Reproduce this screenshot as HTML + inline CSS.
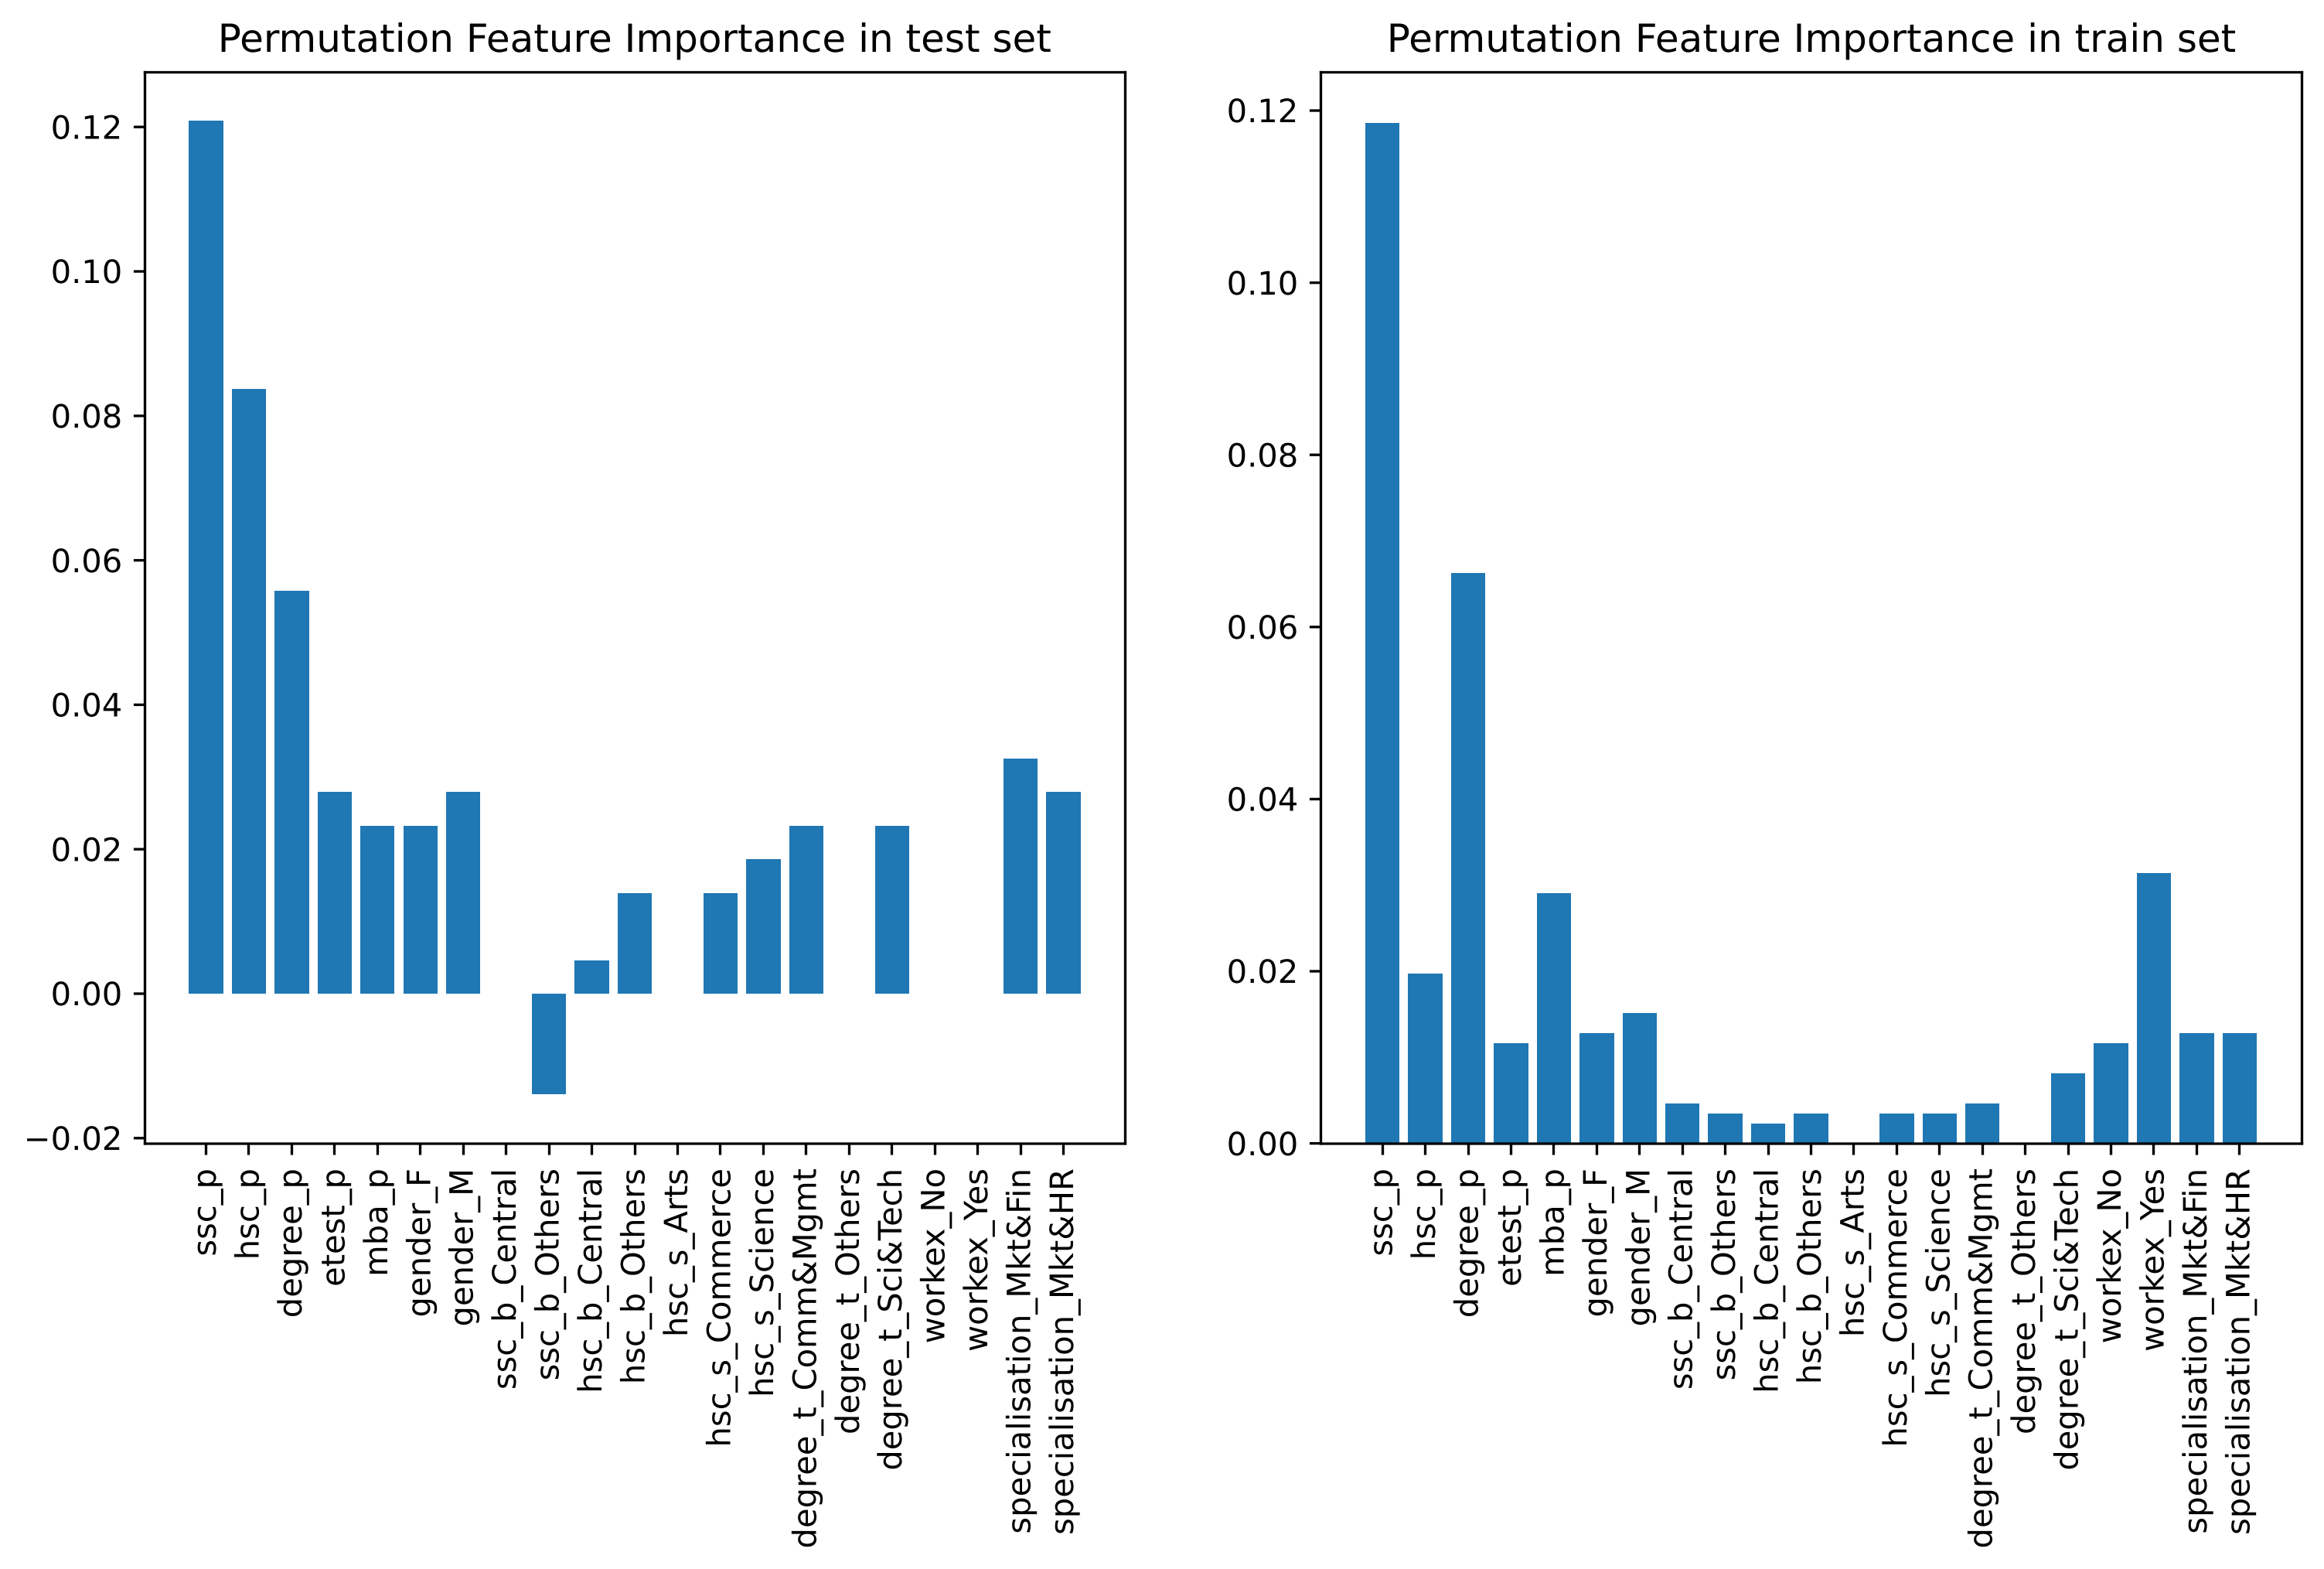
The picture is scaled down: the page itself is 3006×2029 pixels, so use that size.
<!DOCTYPE html>
<html lang="en">
<head>
<meta charset="utf-8">
<title>Permutation Feature Importance</title>
<style>
  html, body { margin: 0; padding: 0; background: #fff; }
  svg { display: block; }
  text { font-family: "DejaVu Sans", "Liberation Sans", sans-serif; fill: #000; text-rendering: geometricPrecision; }
  .tick-label { font-size: 41.67px; }
  .chart-title { font-size: 50px; text-anchor: middle; }
</style>
</head>
<body>
<svg id="figure" xmlns="http://www.w3.org/2000/svg" width="3006" height="2029" viewBox="0 0 3006 2029">
  <rect x="0" y="0" width="3006" height="2029" fill="#ffffff"/>
  <g id="panel-test">
    <text class="chart-title" x="820.8" y="67">Permutation Feature Importance in test set</text>
  </g>
  <g id="panel-train">
    <text class="chart-title" x="2343" y="67">Permutation Feature Importance in train set</text>
  </g>
</svg>
<script>
const categories = ["ssc_p", "hsc_p", "degree_p", "etest_p", "mba_p", "gender_F", "gender_M", "ssc_b_Central", "ssc_b_Others", "hsc_b_Central", "hsc_b_Others", "hsc_s_Arts", "hsc_s_Commerce", "hsc_s_Science", "degree_t_Comm&Mgmt", "degree_t_Others", "degree_t_Sci&Tech", "workex_No", "workex_Yes", "specialisation_Mkt&Fin", "specialisation_Mkt&HR"];
const testValues = [0.1209, 0.0837, 0.0558, 0.0279, 0.02326, 0.02326, 0.0279, 0, -0.01395, 0.00465, 0.01395, 0, 0.01395, 0.0186, 0.02326, 0, 0.02326, 0, 0, 0.03256, 0.0279];
const trainValues = [0.1186, 0.01977, 0.0663, 0.01163, 0.02907, 0.01279, 0.01512, 0.00465, 0.00349, 0.00233, 0.00349, 0, 0.00349, 0.00349, 0.00465, 0, 0.00814, 0.01163, 0.0314, 0.01279, 0.01279];
const testTickValues = [-0.02, 0, 0.02, 0.04, 0.06, 0.08, 0.10, 0.12];
const trainTickValues = [0, 0.02, 0.04, 0.06, 0.08, 0.10, 0.12];

const NS = "http://www.w3.org/2000/svg";
const BAR_COLOR = "#1f77b4";
const BAR_WIDTH = 0.8;
const TICK_LEN = 14.58;
const LINE_W = 3.33;

function make(tag, attrs, parent) {
  const el = document.createElementNS(NS, tag);
  for (const k in attrs) el.setAttribute(k, attrs[k]);
  parent.appendChild(el);
  return el;
}

function formatTick(v) {
  const s = Math.abs(v).toFixed(2);
  return v < 0 ? "\u2212" + s : s;
}

function drawPanel(parent, prefix, values, tickValues, box, xAxis, yAxis) {
  const xScale = i => xAxis.origin + i * xAxis.step;
  const yScale = v => yAxis.zero - v * yAxis.perUnit;

  values.forEach((v, i) => {
    const left = Math.round(xScale(i - BAR_WIDTH / 2));
    const right = Math.round(xScale(i + BAR_WIDTH / 2));
    const top = Math.round(Math.min(yScale(v), yScale(0)));
    const bottom = Math.round(Math.max(yScale(v), yScale(0)));
    const bar = make("rect", { x: left, y: top, width: right - left, height: bottom - top, fill: BAR_COLOR }, parent);
    
    
  });

  tickValues.forEach(v => {
    const y = yScale(v);
    const tick = make("line", { x1: box.left - TICK_LEN, x2: box.left, y1: y, y2: y, stroke: "#000", "stroke-width": LINE_W }, parent);
    
    
    const label = make("text", { class: "tick-label", x: box.left - 2 * TICK_LEN, y: yScale(v) + 15.2, "text-anchor": "end" }, parent);
    label.textContent = formatTick(v);
    
    
  });

  categories.forEach((name, i) => {
    const x = Math.floor(xScale(i)) + 0.5;
    const tick = make("line", { x1: x, x2: x, y1: box.bottom, y2: box.bottom + TICK_LEN, stroke: "#000", "stroke-width": LINE_W }, parent);
    
    
    const label = make("text", { class: "tick-label", "text-anchor": "end", transform: "translate(" + (xScale(i) + 12.5) + "," + (box.bottom + 32) + ") rotate(-90)" }, parent);
    label.textContent = name;
    
    
  });

  const spineLeft = make("line", { x1: box.left, x2: box.left, y1: box.top, y2: box.bottom, stroke: "#000", "stroke-width": LINE_W, "stroke-linecap": "square" }, parent);
  
  
  const spineRight = make("line", { x1: box.right, x2: box.right, y1: box.top, y2: box.bottom, stroke: "#000", "stroke-width": LINE_W, "stroke-linecap": "square" }, parent);
  
  
  const spineTop = make("line", { x1: box.left, x2: box.right, y1: box.top, y2: box.top, stroke: "#000", "stroke-width": LINE_W, "stroke-linecap": "square" }, parent);
  
  
  const spineBottom = make("line", { x1: box.left, x2: box.right, y1: box.bottom, y2: box.bottom, stroke: "#000", "stroke-width": LINE_W, "stroke-linecap": "square" }, parent);
  
  
}

drawPanel(document.getElementById("panel-test"), "test", testValues, testTickValues,
  { left: 187.5, right: 1455.5, top: 93.5, bottom: 1479 },
  { origin: 266.5, step: 55.45 },
  { zero: 1285, perUnit: 9340 });

drawPanel(document.getElementById("panel-train"), "train", trainValues, trainTickValues,
  { left: 1708.5, right: 2977.5, top: 93.5, bottom: 1479 },
  { origin: 1788.2, step: 55.43 },
  { zero: 1478.6, perUnit: 11130 });
</script>
</body>
</html>
